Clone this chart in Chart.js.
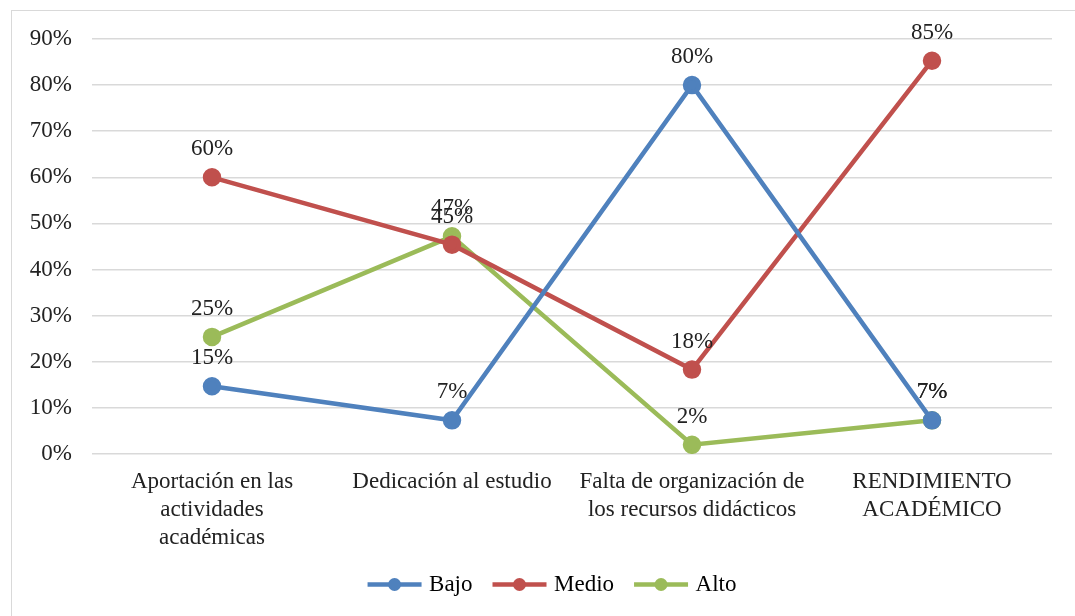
<!DOCTYPE html>
<html>
<head>
<meta charset="utf-8">
<script src="https://cdn.jsdelivr.net/npm/chart.js@4.4.1/dist/chart.umd.min.js"></script>
<style>
  html, body { margin: 0; padding: 0; background: #fff; overflow: hidden; }
  #frame { position: absolute; left: 11px; top: 10px; width: 1100px; height: 700px; border: 1px solid #d9d9d9; }
  #wrap { position: absolute; left: 0; top: 0; width: 1075px; height: 616px; }
</style>
</head>
<body>
<div id="frame"></div>
<div id="wrap"><canvas id="chart" width="1075" height="616"></canvas></div>
<script>
// --- data ---
const categories = [
  ["Aportación en las", "actividades", "académicas"],
  "Dedicación al estudio",
  ["Falta de organización de", "los recursos didácticos"],
  ["RENDIMIENTO", "ACADÉMICO"],
];
const bajo = [14.7, 7.3, 80, 7.3];
const medio = [60, 45.4, 18.3, 85.3];
const alto = [25.4, 47.2, 2, 7.3];
const yTicks = [0, 10, 20, 30, 40, 50, 60, 70, 80, 90];

const FONT = "'Liberation Serif', 'Times New Roman', serif";
const FS = 23;
const TEXT = "#222";

// etiquetas de datos encima de cada punto
const pointLabels = {
  id: "pointLabels",
  afterDatasetsDraw(chart) {
    const ctx = chart.ctx;
    ctx.save();
    ctx.font = FS + "px " + FONT;
    ctx.fillStyle = TEXT;
    ctx.textAlign = "center";
    ctx.textBaseline = "middle";
    chart.data.datasets.forEach((ds, i) => {
      chart.getDatasetMeta(i).data.forEach((pt, j) => {
        ctx.fillText(Math.round(ds.data[j]) + "%", pt.x, pt.y - 28);
      });
    });
    ctx.restore();
  },
};

// leyenda un poco a la derecha, como en el original
const legendShift = {
  id: "legendShift",
  afterLayout(chart) {
    const lg = chart.legend;
    if (!lg) return;
    lg.left += 25;
    lg.right += 25;
  },
};

// marcador de leyenda: linea con punto en medio
const legendMarkers = {
  id: "legendMarkers",
  afterDraw(chart) {
    const legend = chart.legend;
    if (!legend || !legend.legendHitBoxes) return;
    const ctx = chart.ctx;
    const bw = legend.options.labels.boxWidth;
    ctx.save();
    legend.legendHitBoxes.forEach((box, i) => {
      const ds = chart.data.datasets[i];
      const y = box.top + box.height / 2;
      ctx.strokeStyle = ds.borderColor;
      ctx.lineWidth = 4.5;
      ctx.beginPath();
      ctx.moveTo(box.left + 2, y);
      ctx.lineTo(box.left + bw + 4, y);
      ctx.stroke();
      ctx.fillStyle = ds.borderColor;
      ctx.beginPath();
      ctx.arc(box.left + 3 + bw / 2, y, 6.5, 0, Math.PI * 2);
      ctx.fill();
    });
    ctx.restore();
  },
};

function series(label, data, color) {
  return {
    label: label,
    data: data,
    borderColor: color,
    backgroundColor: color,
    borderWidth: 4.5,
    pointRadius: 7,
    pointHoverRadius: 7,
    tension: 0,
  };
}

new Chart(document.getElementById("chart"), {
  type: "line",
  data: {
    labels: categories,
    datasets: [
      series("Bajo", bajo, "#4f81bd"),
      series("Medio", medio, "#c0504d"),
      series("Alto", alto, "#9bbb59"),
    ],
  },
  options: {
    responsive: false,
    animation: false,
    layout: { padding: { top: 39, right: 23, bottom: 10, left: 0 } },
    scales: {
      x: {
        offset: true,
        grid: { display: false },
        border: { display: false },
        ticks: { color: TEXT, font: { family: FONT, size: FS, lineHeight: 1.22 }, padding: 6, maxRotation: 0, autoSkip: false },
        afterFit(scale) { scale.height = 101; },
      },
      y: {
        min: 0,
        max: 90,
        afterBuildTicks(scale) { scale.ticks = yTicks.map((v) => ({ value: v })); },
        grid: { color: "#d9d9d9", lineWidth: 1.5, drawTicks: false },
        border: { display: false },
        ticks: { color: TEXT, font: { family: FONT, size: FS }, padding: 20, callback: (v) => v + "%" },
        afterFit(scale) { scale.width = 92; },
      },
    },
    plugins: {
      legend: {
        position: "bottom",
        labels: {
          color: TEXT,
          font: { family: FONT, size: FS },
          boxWidth: 52,
          boxHeight: 10,
          padding: 18,
          generateLabels(chart) {
            return chart.data.datasets.map((ds, i) => ({
              text: ds.label,
              fillStyle: "rgba(0,0,0,0)",
              strokeStyle: "rgba(0,0,0,0)",
              lineWidth: 0,
              datasetIndex: i,
            }));
          },
        },
      },
      tooltip: { enabled: false },
    },
  },
  plugins: [pointLabels, legendShift, legendMarkers],
});
</script>
</body>
</html>
